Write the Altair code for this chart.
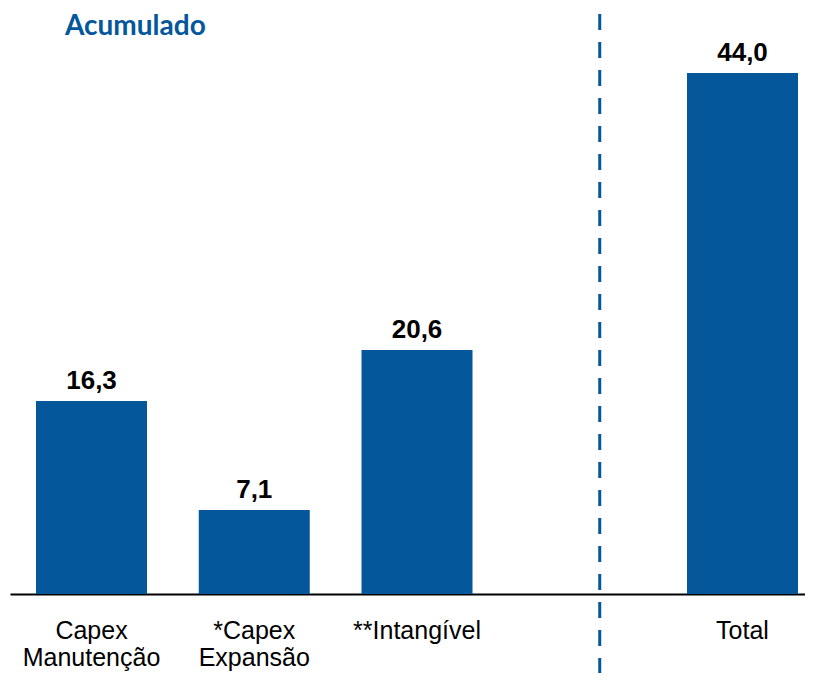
import altair as alt
import pandas as pd

categories = ["Capex|Manutenção", "*Capex|Expansão", "**Intangível", " ", "Total"]
bar_categories = ["Capex|Manutenção", "*Capex|Expansão", "**Intangível", "Total"]
values = [16.3, 7.1, 20.6, 44.0]
title_text = "Acumulado"

BLUE = "#04579b"

df = pd.DataFrame({"cat": bar_categories, "value": values})

x_scale = alt.Scale(domain=categories, paddingInner=0.318, paddingOuter=0.1014,
                    align=0.788, round=False)
y_scale = alt.Scale(domain=[0, 49.32], nice=False, zero=True)

x_enc = alt.X(
    "cat:N",
    scale=x_scale,
    sort=categories,
    title=None,
    axis=alt.Axis(
        labelExpr="split(datum.label, '|')",
        labelAngle=0,
        labelFont="Liberation Sans",
        labelFontSize=25,
        labelColor="black",
        labelLineHeight=27,
        labelPadding=24,
        ticks=False,
        domainColor="black",
        domainWidth=2,
        grid=False,
    ),
)

base = alt.Chart(df)

bars = base.mark_bar(color=BLUE).encode(
    x=x_enc,
    y=alt.Y("value:Q", scale=y_scale, axis=None),
)

labels = base.transform_calculate(
    lbl="replace(format(datum.value, '.1f'), '.', ',')"
).mark_text(
    font="Liberation Sans", fontSize=26, fontWeight="bold", color="black",
    baseline="alphabetic", dy=-12,
).encode(
    x=alt.X("cat:N", scale=x_scale, sort=categories),
    y=alt.Y("value:Q", scale=y_scale),
    text="lbl:N",
)

sep = alt.Chart(pd.DataFrame({"cat": [" "]})).mark_rule(
    color=BLUE, strokeWidth=3, strokeDash=[16, 12]
).encode(
    x=alt.X("cat:N", scale=x_scale, sort=categories, bandPosition=0.68),
    y=alt.value(4),
    y2=alt.value(663),
)

title = alt.Chart(pd.DataFrame({"t": [title_text]})).mark_text(
    font="Lato", fontSize=28, fontWeight="bold", color=BLUE,
    align="left", baseline="alphabetic",
).encode(
    x=alt.value(55),
    y=alt.value(25),
    text="t:N",
)

chart = alt.layer(bars, labels, sep, title).properties(
    width=795,
    height=584,
    autosize=alt.AutoSizeParams(type="none"),
    padding={"left": 2, "top": 2, "right": 0, "bottom": 79},
).configure_view(stroke=None)

chart.save("out.html", embed_options={"renderer": "svg", "actions": False})
